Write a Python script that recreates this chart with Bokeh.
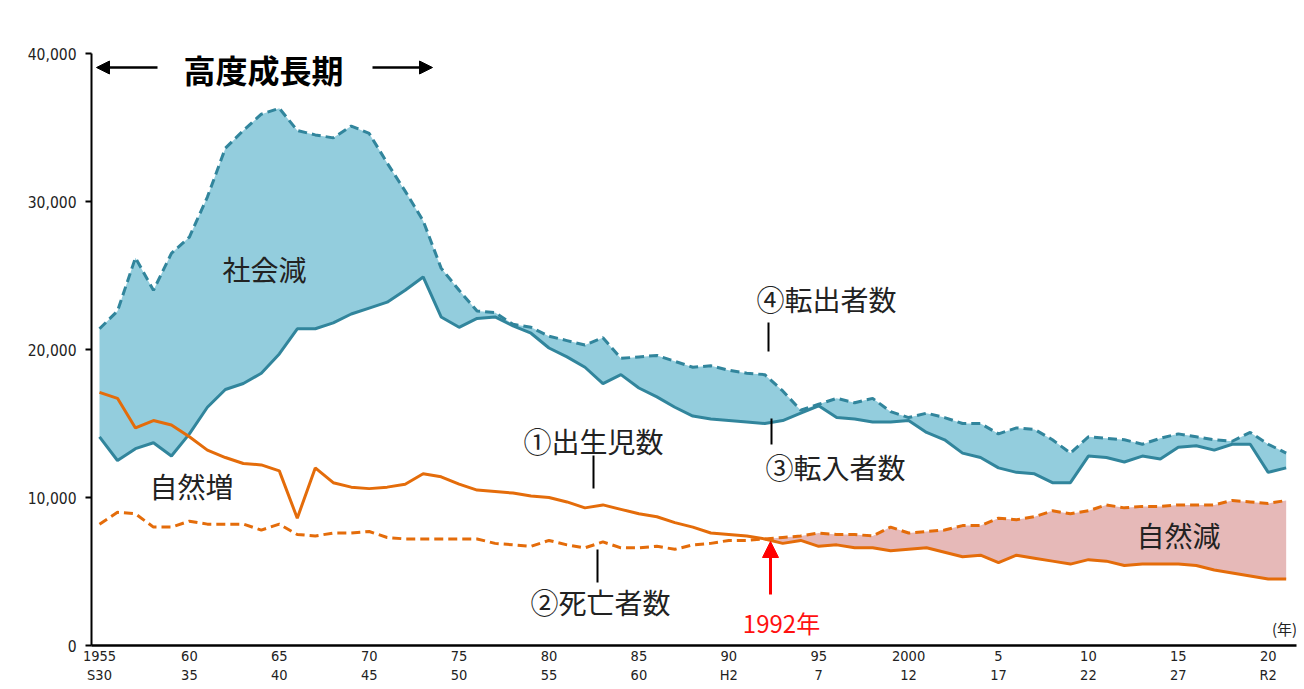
from bokeh.plotting import figure
from bokeh.models import (Range1d, FixedTicker, NumeralTickFormatter, Label, Arrow,
                          NormalHead)
from bokeh.embed import file_html
from bokeh.resources import INLINE

# ---------------- data (thousands of persons) ----------------
years = list(range(1955, 2022))

transfer_out = [21.4, 22.6, 26.2, 24.0, 26.5, 27.6, 30.3, 33.6, 34.8, 35.9,
                36.3, 34.8, 34.5, 34.3, 35.1, 34.6, 32.6, 30.7, 28.7, 25.5,
                24.0, 22.6, 22.5, 21.7, 21.5, 20.9, 20.6, 20.3, 20.8, 19.4,
                19.5, 19.6, 19.2, 18.8, 18.9, 18.6, 18.4, 18.3, 17.2, 15.9,
                16.3, 16.7, 16.4, 16.7, 15.8, 15.4, 15.7, 15.4, 15.0, 15.0,
                14.3, 14.7, 14.6, 13.9, 13.0, 14.1, 14.0, 13.9, 13.6, 14.0,
                14.3, 14.1, 13.9, 13.8, 14.4, 13.6, 13.0]

transfer_in = [14.1, 12.5, 13.3, 13.7, 12.8, 14.3, 16.1, 17.3, 17.7, 18.4,
               19.7, 21.4, 21.4, 21.8, 22.4, 22.8, 23.2, 24.0, 24.9, 22.2,
               21.5, 22.1, 22.2, 21.6, 21.1, 20.1, 19.5, 18.8, 17.7, 18.3,
               17.4, 16.8, 16.1, 15.5, 15.3, 15.2, 15.1, 15.0, 15.2, 15.7,
               16.2, 15.4, 15.3, 15.1, 15.1, 15.2, 14.4, 13.9, 13.0, 12.7,
               12.0, 11.7, 11.6, 11.0, 11.0, 12.8, 12.7, 12.4, 12.8, 12.6,
               13.4, 13.5, 13.2, 13.6, 13.6, 11.7, 12.0]

births = [17.1, 16.7, 14.7, 15.2, 14.9, 14.1, 13.2, 12.7, 12.3, 12.2,
          11.8, 8.6, 12.0, 11.0, 10.7, 10.6, 10.7, 10.9, 11.6, 11.4,
          10.9, 10.5, 10.4, 10.3, 10.1, 10.0, 9.7, 9.3, 9.5, 9.2,
          8.9, 8.7, 8.3, 8.0, 7.6, 7.5, 7.4, 7.2, 6.9, 7.1,
          6.7, 6.8, 6.6, 6.6, 6.4, 6.5, 6.6, 6.3, 6.0, 6.1,
          5.6, 6.1, 5.9, 5.7, 5.5, 5.8, 5.7, 5.4, 5.5, 5.5,
          5.5, 5.4, 5.1, 4.9, 4.7, 4.5, 4.5]

deaths = [8.2, 9.0, 8.9, 8.0, 8.0, 8.4, 8.2, 8.2, 8.2, 7.8,
          8.2, 7.5, 7.4, 7.6, 7.6, 7.7, 7.3, 7.2, 7.2, 7.2,
          7.2, 7.2, 6.9, 6.8, 6.7, 7.1, 6.8, 6.6, 7.0, 6.6,
          6.6, 6.7, 6.5, 6.8, 6.9, 7.1, 7.1, 7.2, 7.3, 7.4,
          7.6, 7.5, 7.5, 7.4, 8.0, 7.6, 7.7, 7.8, 8.1, 8.1,
          8.6, 8.5, 8.7, 9.1, 8.9, 9.1, 9.5, 9.3, 9.4, 9.4,
          9.5, 9.5, 9.5, 9.8, 9.7, 9.6, 9.8]

tick_years = [1955, 1960, 1965, 1970, 1975, 1980, 1985, 1990, 1995, 2000,
              2005, 2010, 2015, 2020]
year_labels = ["1955", "60", "65", "70", "75", "80", "85", "90", "95", "2000",
               "5", "10", "15", "20"]
era_labels = ["S30", "35", "40", "45", "50", "55", "60", "H2", "7", "12",
              "17", "22", "27", "R2"]
y_ticks = [0, 10000, 20000, 30000, 40000]

out_v = [v * 1000 for v in transfer_out]
in_v = [v * 1000 for v in transfer_in]
birth_v = [v * 1000 for v in births]
death_v = [v * 1000 for v in deaths]
natural_dec_top = [max(b, d) for b, d in zip(birth_v, death_v)]

# ---------------- layout ----------------
W, H = 1298, 687
ML, MR, MT, MB = 91, 2, 8, 42
frame_w = W - ML - MR
frame_h = H - MT - MB
PX_YEAR = 17.98
PX_UNIT = 0.0148
X0 = 1954.555
X1 = X0 + frame_w / PX_YEAR
Y1 = frame_h / PX_UNIT


def dx(px):  # page pixel -> data x
    return X0 + (px - 91) / PX_YEAR


def dy(py):  # page pixel -> data y
    return (645 - py) / PX_UNIT


TEAL = "#31859C"
AQUA = "#93CDDD"
ORANGE = "#E46C0A"
PINK = "#E6B9B8"
JP = "Noto Sans CJK JP"
NUM = "DejaVu Sans Condensed, Liberation Sans Narrow, Liberation Sans, sans-serif"

p = figure(width=W, height=H, x_range=Range1d(X0, X1), y_range=Range1d(0, Y1),
           output_backend="svg", toolbar_location=None,
           min_border_left=ML, min_border_right=MR, min_border_top=MT,
           min_border_bottom=MB)
p.outline_line_color = None
p.grid.visible = False
p.background_fill_color = "white"

# fills
p.varea(x=years, y1=in_v, y2=out_v, fill_color=AQUA)
p.varea(x=years, y1=birth_v, y2=natural_dec_top, fill_color=PINK)

# lines
p.line(years, out_v, line_color=TEAL, line_width=3, line_dash="9 5")
p.line(years, in_v, line_color=TEAL, line_width=3)
p.line(years, death_v, line_color=ORANGE, line_width=3, line_dash="9 5")
p.line(years, birth_v, line_color=ORANGE, line_width=3)

# axes
xa = p.xaxis[0]
xa.ticker = FixedTicker(ticks=tick_years)
xa.major_label_overrides = {y: f"{a}\n{b}" for y, a, b in zip(tick_years, year_labels, era_labels)}
xa.major_tick_out = 0
xa.major_tick_in = 0
xa.minor_tick_out = 0
xa.minor_tick_in = 0
xa.axis_line_width = 2.5
xa.axis_line_color = "black"
xa.major_label_standoff = 2
xa.major_label_text_font = NUM
xa.major_label_text_font_size = "14.5px"
xa.major_label_text_color = "#222222"

ya = p.yaxis[0]
ya.ticker = FixedTicker(ticks=y_ticks)
ya.formatter = NumeralTickFormatter(format="0,0")
ya.bounds = (0, 40000)
ya.axis_line_width = 2
ya.axis_line_color = "black"
ya.major_tick_out = 6
ya.major_tick_in = 0
ya.major_tick_line_width = 2
ya.minor_tick_out = 0
ya.minor_tick_in = 0
ya.major_label_standoff = 9
ya.major_label_text_font = NUM
ya.major_label_text_font_size = "15.5px"
ya.major_label_text_color = "#222222"


def label(text, px, py, size, color="#222222", bold=False):
    p.add_layout(Label(x=dx(px), y=dy(py), text=text, text_align="center",
                       text_baseline="middle", text_font=JP,
                       text_font_size=f"{size}px", text_color=color,
                       text_font_style="bold" if bold else "normal"))


label("高度成長期", 263, 68, 32, color="black", bold=True)
p.add_layout(Arrow(x_start=dx(157), y_start=dy(67), x_end=dx(96), y_end=dy(67),
                   line_width=2.5, line_color="black",
                   end=NormalHead(size=13, fill_color="black", line_color="black")))
p.add_layout(Arrow(x_start=dx(372), y_start=dy(67), x_end=dx(432), y_end=dy(67),
                   line_width=2.5, line_color="black",
                   end=NormalHead(size=13, fill_color="black", line_color="black")))

label("社会減", 264, 268, 28)
label("④転出者数", 826, 298, 28)
label("③転入者数", 835, 466, 28)
label("①出生児数", 593, 440, 28)
label("②死亡者数", 600, 601, 28)
label("自然増", 191, 485, 28)
label("自然減", 1178, 534, 28)
label("1992年", 781, 622, 24, color="#FF1010")
label("(人)", 57, 20, 15)
label("(年)", 1284, 628, 15)

# leader lines
for (xp, ya_, yb_) in [(768, 322, 351), (771, 418, 444), (593, 455, 488), (597, 549, 582)]:
    p.segment(x0=[dx(xp)], y0=[dy(ya_)], x1=[dx(xp)], y1=[dy(yb_)],
              line_color="black", line_width=2)

p.add_layout(Arrow(x_start=dx(770), y_start=dy(594), x_end=dx(770), y_end=dy(541),
                   line_width=3, line_color="#FF0000",
                   end=NormalHead(size=16, fill_color="#FF0000", line_color="#FF0000")))

open("out.html", "w").write(file_html(p, INLINE))
